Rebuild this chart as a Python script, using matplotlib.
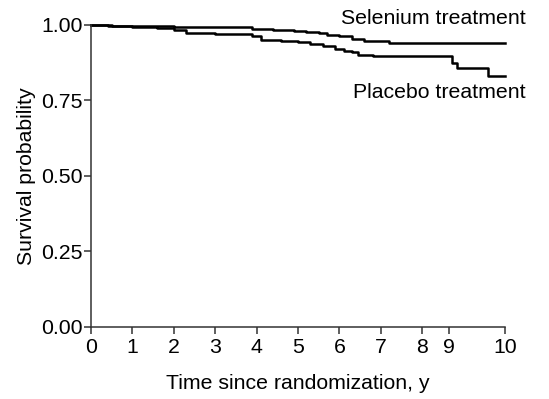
import matplotlib.pyplot as plt

# Kaplan-Meier style step curves (value holds from time t onward)
selenium_t = [0, 0.5, 1.0, 1.5, 2.0, 2.2, 3.9, 4.4, 4.9, 5.2, 5.5, 5.7, 6.0, 6.3, 6.6, 7.2, 10]
selenium_s = [1.0, 0.998, 0.996, 0.995, 0.993, 0.992, 0.986, 0.984, 0.979, 0.976, 0.972,
              0.967, 0.962, 0.955, 0.947, 0.940, 0.940]

placebo_t = [0, 0.4, 1.0, 1.6, 2.0, 2.3, 3.0, 3.9, 4.1, 4.6, 5.0, 5.3, 5.6, 5.9, 6.1,
             6.3, 6.45, 6.8, 8.72, 8.85, 9.6, 10]
placebo_s = [1.0, 0.995, 0.993, 0.990, 0.983, 0.973, 0.969, 0.962, 0.951, 0.947, 0.942,
             0.936, 0.929, 0.921, 0.915, 0.909, 0.901, 0.896, 0.873, 0.857, 0.832, 0.832]

x_ticks = [0, 1, 2, 3, 4, 5, 6, 7, 8, 8.64, 10]
x_tick_labels = ["0", "1", "2", "3", "4", "5", "6", "7", "8", "9", "10"]
y_ticks = [0.0, 0.25, 0.5, 0.75, 1.0]
y_tick_labels = ["0.00", "0.25", "0.50", "0.75", "1.00"]

plt.rcParams["font.family"] = ["Liberation Sans", "DejaVu Sans"]
FS = 15.3

fig = plt.figure(figsize=(5.49, 3.99), dpi=100)
ax = fig.add_axes([0.1658, 0.1805, 0.7541, 0.7569])

ax.step(selenium_t, selenium_s, where="post", color="black", lw=1.8, clip_on=False)
ax.step(placebo_t, placebo_s, where="post", color="black", lw=1.8, clip_on=False)

ax.set_xlim(0, 10)
ax.set_ylim(0, 1)
ax.set_xticks(x_ticks)
ax.set_xticklabels(x_tick_labels)
ax.set_yticks(y_ticks)
ax.set_yticklabels(y_tick_labels)

for side in ["top", "right"]:
    ax.spines[side].set_visible(False)
for side in ["left", "bottom"]:
    ax.spines[side].set_linewidth(1.1)
    ax.spines[side].set_color("#333333")

ax.tick_params(direction="out", length=5, width=1.1, color="#333333",
               labelsize=FS)
ax.tick_params(axis="x", pad=3)
ax.tick_params(axis="y", pad=1)

ax.set_xlabel("Time since randomization, y", fontsize=FS, labelpad=12)
ax.set_ylabel("Survival probability", fontsize=FS, labelpad=4)

ax.text(10.5, 1.023, "Selenium treatment", ha="right", va="center",
        fontsize=FS, clip_on=False)
ax.text(10.5, 0.778, "Placebo treatment", ha="right", va="center",
        fontsize=FS, clip_on=False)

fig.savefig("out.png", dpi=100)
